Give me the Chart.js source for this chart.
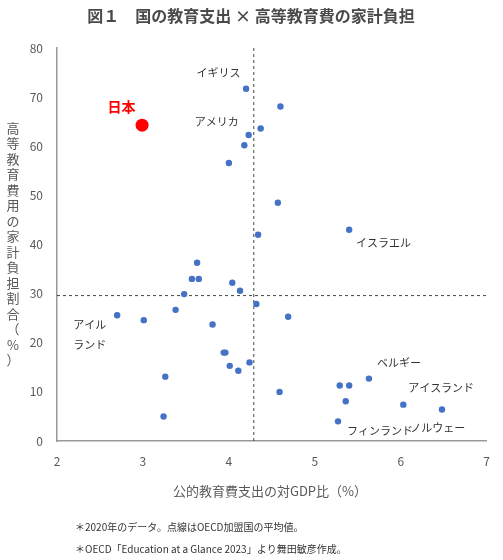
<!DOCTYPE html><html><head><meta charset="utf-8">
<script src="https://cdn.jsdelivr.net/npm/chart.js@4"></script>
<style>html,body{margin:0;padding:0;background:#fff}#w{width:503px;height:560px}</style></head><body>
<div id="w"><canvas id="c" width="503" height="560"></canvas></div>
<script>
const spendX=[4.20,4.60,4.37,4.23,4.18,4.00,4.57,4.34,5.40,3.63,3.57,3.65,4.04,4.13,3.48,4.32,3.38,2.70,3.01,4.69,3.81,3.94,3.96,4.01,4.11,4.24,3.26,4.59,3.24,5.29,5.40,5.63,5.36,6.03,6.48,5.27];
const shareY=[71.7,68.1,63.6,62.3,60.2,56.6,48.5,42.0,43.0,36.3,33.0,33.0,32.2,30.6,29.9,27.9,26.7,25.6,24.6,25.3,23.7,18.0,18.0,15.3,14.3,16.0,13.1,10.0,5.0,11.3,11.3,12.7,8.1,7.4,6.4,4.0];
const japan={x:2.99,y:64.3};
const meanX=4.29, meanY=29.6;
const labelText=["イギリス","アメリカ","イスラエル","アイル","ランド","ベルギー","アイスランド","フィンランド","ノルウェー"];
const labelX=[3.88,3.86,5.80,2.38,2.38,5.98,6.47,5.76,6.43];
const labelY=[74.9,65.0,40.3,23.6,19.6,15.9,10.8,2.0,2.6];
const title="図１　国の教育支出 × 高等教育費の家計負担";
const xTitle="公的教育費支出の対GDP比（%）";
const yTitle="高等教育費用の家計負担割合（%）";
const notes=["＊2020年のデータ。点線はOECD加盟国の平均値。","＊OECD「Education at a Glance 2023」より舞田敏彦作成。"];
const F='"Noto Sans CJK JP","Noto Sans",sans-serif';
const deco={id:'deco',
 beforeDatasetsDraw(ch){const c=ch.ctx,x=ch.scales.x,y=ch.scales.y;c.save();c.strokeStyle='#444';c.lineWidth=1;c.setLineDash([3,3]);
  c.beginPath();c.moveTo(x.getPixelForValue(meanX),y.top);c.lineTo(x.getPixelForValue(meanX),y.bottom);
  c.moveTo(x.left,y.getPixelForValue(meanY));c.lineTo(x.right,y.getPixelForValue(meanY));c.stroke();c.restore();},
 afterDraw(ch){const c=ch.ctx,x=ch.scales.x,y=ch.scales.y;c.save();
  c.textAlign='center';c.textBaseline='middle';
  c.font='bold 16px '+F;c.fillStyle='#4a4a4a';c.fillText(title,251,16);
  c.font='11px '+F;c.fillStyle='#333';
  labelText.forEach((t,i)=>c.fillText(t,x.getPixelForValue(labelX[i]),y.getPixelForValue(labelY[i])));
  c.font='bold 14px '+F;c.fillStyle='#ff0000';c.fillText('日本',x.getPixelForValue(2.75),y.getPixelForValue(68));
  c.font='13px '+F;c.fillStyle='#595959';c.fillText(xTitle,270,491);
  [...yTitle].forEach((ch2,i)=>c.fillText(ch2,13,128+i*15.5));
  c.textAlign='left';c.font='10px '+F;c.fillStyle='#333';
  c.fillText(notes[0],75,527);c.fillText(notes[1],75,549);
  c.restore();}};
new Chart(document.getElementById('c'),{type:'scatter',
 data:{datasets:[
  {data:spendX.map((v,i)=>({x:v,y:shareY[i]})),backgroundColor:'#4472c4',borderWidth:0,pointRadius:3.2},
  {data:[japan],backgroundColor:'#ff0000',borderWidth:0,pointRadius:6.5}]},
 options:{responsive:false,animation:false,layout:{padding:{top:48,right:15,bottom:0,left:0}},
  plugins:{legend:{display:false},tooltip:{enabled:false}},
  scales:{
   x:{min:2,max:7,afterFit:s=>{s.height=119},grid:{display:false,drawTicks:false},border:{color:'#999',width:1.5},
      ticks:{stepSize:1,color:'#595959',font:{size:12,family:F},padding:13}},
   y:{min:0,max:80,afterFit:s=>{s.width=57},grid:{display:false,drawTicks:false},border:{color:'#999',width:1.5},
      ticks:{stepSize:10,color:'#595959',font:{size:12,family:F},padding:14}}}},
 plugins:[deco]});
</script></body></html>
